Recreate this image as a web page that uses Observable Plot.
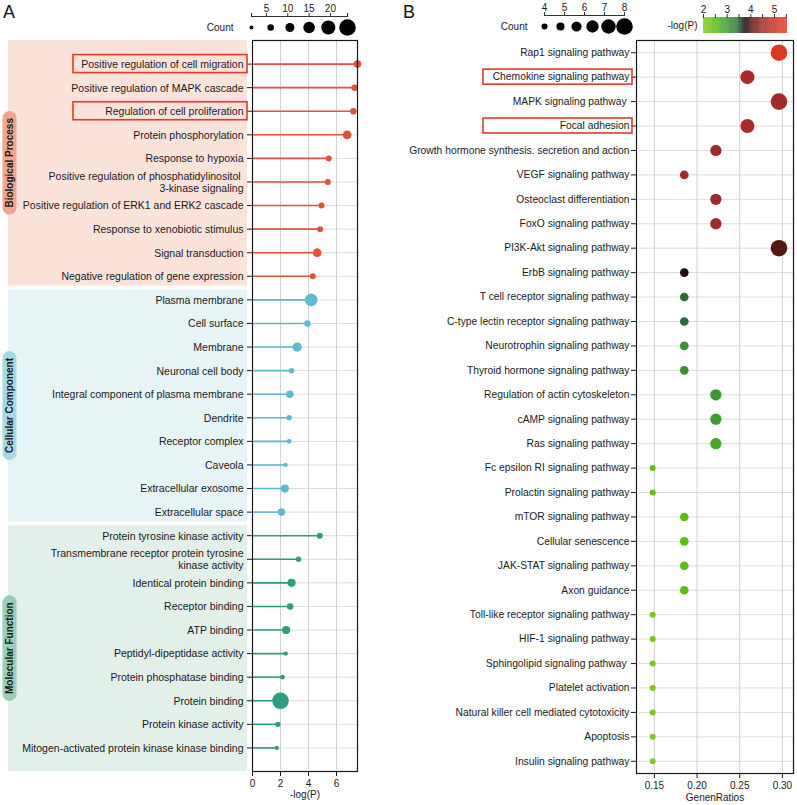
<!DOCTYPE html>
<html><head><meta charset="utf-8">
<script src="https://cdn.jsdelivr.net/npm/d3@7"></script>
<script src="https://cdn.jsdelivr.net/npm/@observablehq/plot@0.6"></script>
<style>
html,body{margin:0;padding:0;background:#fff;}
#root{position:relative;width:797px;height:805px;overflow:hidden;font-family:"Liberation Sans",Arial,Helvetica,sans-serif;}
#root > svg, #root > div{position:absolute;left:0;top:0;}
.panel{font-size:18px;color:#111;line-height:1;}
</style></head><body><div id="root"></div>
<script>
// ---------- Panel A data (GO enrichment) ----------
const goTerms = [
  "Positive regulation of cell migration",
  "Positive regulation of MAPK cascade",
  "Regulation of cell proliferation",
  "Protein phosphorylation",
  "Response to hypoxia",
  "Positive regulation of phosphatidylinositol \n3-kinase signaling",
  "Positive regulation of ERK1 and ERK2 cascade",
  "Response to xenobiotic stimulus",
  "Signal transduction",
  "Negative regulation of gene expression",
  "Plasma membrane",
  "Cell surface",
  "Membrane",
  "Neuronal cell body",
  "Integral component of plasma membrane",
  "Dendrite",
  "Receptor complex",
  "Caveola",
  "Extracellular exosome",
  "Extracellular space",
  "Protein tyrosine kinase activity",
  "Transmembrane receptor protein tyrosine\nkinase activity",
  "Identical protein binding",
  "Receptor binding",
  "ATP binding",
  "Peptidyl-dipeptidase activity",
  "Protein phosphatase binding",
  "Protein binding",
  "Protein kinase activity",
  "Mitogen-activated protein kinase kinase binding"
];
const goGroup = [
  "Biological Process","Biological Process","Biological Process","Biological Process","Biological Process",
  "Biological Process","Biological Process","Biological Process","Biological Process","Biological Process",
  "Cellular Component","Cellular Component","Cellular Component","Cellular Component","Cellular Component",
  "Cellular Component","Cellular Component","Cellular Component","Cellular Component","Cellular Component",
  "Molecular Function","Molecular Function","Molecular Function","Molecular Function","Molecular Function",
  "Molecular Function","Molecular Function","Molecular Function","Molecular Function","Molecular Function"
];
const goLogP = [7.5, 7.3, 7.2, 6.76, 5.45, 5.38, 4.93, 4.83, 4.62, 4.31,
                4.19, 3.93, 3.19, 2.79, 2.67, 2.62, 2.62, 2.36, 2.31, 2.07,
                4.81, 3.29, 2.79, 2.69, 2.40, 2.38, 2.14, 2.00, 1.81, 1.74];
const goCount = [8, 6, 6, 10, 5, 5, 5, 5, 10, 5,
                 17, 6, 11, 4, 8, 4, 3, 2, 9, 8,
                 5, 4, 9, 6, 9, 2, 3, 24, 4, 2];
const groupNames = ["Biological Process","Cellular Component","Molecular Function"];
const goHighlighted = ["Positive regulation of cell migration","Regulation of cell proliferation"];
const goXTicks = [0, 2, 4, 6];
const countLegendA = [1.5, 6, 10.5, 15, 19.5, 24];
const countLegendATicks = [5, 10, 15, 20];

// ---------- Panel B data (KEGG enrichment) ----------
const keggTerms = [
  "Rap1 signaling pathway",
  "Chemokine signaling pathway",
  "MAPK signaling pathway ",
  "Focal adhesion",
  "Growth hormone synthesis. secretion and action",
  "VEGF signaling pathway",
  "Osteoclast differentiation",
  "FoxO signaling pathway",
  "PI3K-Akt signaling pathway",
  "ErbB signaling pathway",
  "T cell receptor signaling pathway",
  "C-type lectin receptor signaling pathway",
  "Neurotrophin signaling pathway",
  "Thyroid hormone signaling pathway",
  "Regulation of actin cytoskeleton",
  "cAMP signaling pathway",
  "Ras signaling pathway",
  "Fc epsilon RI signaling pathway",
  "Prolactin signaling pathway",
  "mTOR signaling pathway",
  "Cellular senescence",
  "JAK-STAT signaling pathway",
  "Axon guidance",
  "Toll-like receptor signaling pathway",
  "HIF-1 signaling pathway",
  "Sphingolipid signaling pathway ",
  "Platelet activation",
  "Natural killer cell mediated cytotoxicity",
  "Apoptosis",
  "Insulin signaling pathway"
];
const keggRatio = [0.296, 0.259, 0.296, 0.259, 0.222, 0.185, 0.222, 0.222, 0.296, 0.185,
                   0.185, 0.185, 0.185, 0.185, 0.222, 0.222, 0.222, 0.148, 0.148, 0.185,
                   0.185, 0.185, 0.185, 0.148, 0.148, 0.148, 0.148, 0.148, 0.148, 0.148];
const keggCount = [8, 7, 8, 7, 6, 5, 6, 6, 8, 5,
                   5, 5, 5, 5, 6, 6, 6, 4, 4, 5,
                   5, 5, 5, 4, 4, 4, 4, 4, 4, 4];
const keggLogP = [5.40, 4.60, 4.55, 4.60, 4.50, 4.55, 4.50, 4.50, 4.05, 3.85,
                  3.45, 3.45, 3.10, 3.10, 3.00, 2.95, 2.80, 2.40, 2.40, 2.50,
                  2.50, 2.50, 2.50, 2.10, 2.10, 2.05, 2.05, 2.05, 2.05, 2.00];
const keggHighlighted = ["Chemokine signaling pathway","Focal adhesion"];
const keggXTicks = [0.15, 0.20, 0.25, 0.30];
const countLegendB = [4, 4.8, 5.6, 6.4, 7.2, 8];
const countLegendBTicks = [4, 5, 6, 7, 8];
const logPLegendTicks = [2, 2.5, 3, 3.5, 4, 4.5, 5, 5.5];

// ---------- styles ----------
const FONT = "'Liberation Sans', Arial, Helvetica, sans-serif";
const groupLine = ["#e0523d", "#5dbad0", "#2f9d80"];
const groupBand = ["#fce3da", "#e6f4f6", "#e3efe9"];
const groupPill = ["#f1a48e", "#a7d8e6", "#99cfb8"];
const pColorDomain = [2, 2.5, 3.0, 3.45, 3.75, 4.0, 4.5, 5.55];
const pColorRange = ["#86c820", "#5cbd12", "#3a9a30", "#2d6b36", "#080808", "#4a1512", "#a0292a", "#ea3a1e"];
const W = 797, H = 805;
const root = document.getElementById("root");

// ================= Panel A =================
const rowsA = goTerms.map((term, i) => ({term, group: goGroup[i], logp: goLogP[i], count: goCount[i]}));
const chartA = Plot.plot({
  width: W, height: H,
  marginLeft: 252, marginRight: W - 357, marginTop: 40, marginBottom: 34,
  style: {fontFamily: FONT, fontSize: "10px", color: "#1a1a1a", background: "transparent", overflow: "visible"},
  x: {domain: [0, 7.5]},
  y: {type: "point", domain: goTerms, padding: 1, round: false},
  r: {type: "linear", domain: [1.5, 24], range: [2, 8.3]},
  color: {domain: groupNames, range: groupLine},
  marks: [
    Plot.gridY({stroke: "#dcdcdc", strokeOpacity: 1}),
    Plot.gridX(goXTicks.slice(1), {stroke: "#d2d2d2", strokeOpacity: 1}),
    Plot.ruleY(rowsA, {y: "term", x1: 0, x2: "logp", stroke: "group", strokeWidth: 1.6}),
    Plot.dot(rowsA, {y: "term", x: "logp", r: "count", fill: "group"}),
    Plot.frame({stroke: "#1a1a1a", strokeWidth: 1.2}),
    Plot.axisY({tickSize: 5, tickPadding: 4, label: null, lineHeight: 1.15, fontSize: 10.5}),
    Plot.axisX({ticks: goXTicks, tickSize: 5, tickPadding: 3, label: "-log(P)", labelAnchor: "center", labelArrow: "none", labelOffset: 26, fontSize: 10})
  ]
});
root.appendChild(chartA);

// group bands, pills and highlight boxes positioned by the y scale
{
  const yA = chartA.scale("y");
  const pos = goTerms.map(t => yA.apply(t));
  const svg = d3.select(chartA);
  const g = svg.insert("g", "g");
  const top = 40, bottom = H - 34;
  groupNames.forEach((name, gi) => {
    const idx = goGroup.map((d, i) => d === name ? i : -1).filter(i => i >= 0);
    const first = idx[0], last = idx[idx.length - 1];
    const y0 = first === 0 ? top : (pos[first - 1] + pos[first]) / 2 + 2;
    const y1 = last === goTerms.length - 1 ? bottom : (pos[last] + pos[last + 1]) / 2 - 2;
    g.append("rect").attr("x", 8).attr("width", 239).attr("y", y0).attr("height", y1 - y0).attr("fill", groupBand[gi]);
    const cy = (y0 + y1) / 2;
    const pill = g.append("rect").attr("fill", groupPill[gi]);
    const t = g.append("text").text(name)
      .attr("transform", `translate(9.5,${cy}) rotate(-90)`)
      .attr("text-anchor", "middle").attr("dy", "0.35em")
      .attr("font-size", 10).attr("font-weight", "bold").attr("fill", "#1a1a1a")
      .attr("font-family", FONT);
    const len = t.node().getComputedTextLength();
    const ph = len + 14;
    pill.attr("x", 2.5).attr("width", 14).attr("y", cy - ph / 2).attr("height", ph).attr("rx", 7);
  });
  const hb = svg.append("g");
  goHighlighted.forEach(term => {
    const y = yA.apply(term);
    hb.append("rect").attr("x", 73).attr("width", 174).attr("y", y - 9).attr("height", 18)
      .attr("fill", "none").attr("stroke", "#e23b2a").attr("stroke-width", 1.6);
  });
}

// Count legend A
const legA = Plot.plot({
  width: W, height: 40,
  marginLeft: 251, marginRight: W - 347, marginTop: 16, marginBottom: 2,
  style: {fontFamily: FONT, fontSize: "10px", color: "#1a1a1a", background: "transparent", overflow: "visible"},
  x: {domain: [1.5, 24]},
  y: {domain: [0, 1], axis: null},
  r: {type: "linear", domain: [1.5, 24], range: [2, 8.3]},
  marks: [
    Plot.ruleY([1], {x1: 1.5, x2: 24, stroke: "#333"}),
    Plot.axisX({anchor: "top", ticks: [1.5, ...countLegendATicks, 24], tickFormat: d => countLegendATicks.includes(d) ? String(d) : "", tickSize: 4, tickPadding: 1, label: null, stroke: "#333"}),
    Plot.dot(countLegendA, {x: d => d, y: 0.5, r: d => d, fill: "#000"}),
    Plot.text(["Count"], {x: 1.5, y: 0.5, dx: -18, textAnchor: "end", fontSize: 10})
  ]
});
root.appendChild(legA);

// ================= Panel B =================
const rowsB = keggTerms.map((term, i) => ({term, ratio: keggRatio[i], count: keggCount[i], logp: keggLogP[i]}));
const chartB = Plot.plot({
  width: W, height: H,
  marginLeft: 636, marginRight: W - 793, marginTop: 40, marginBottom: H - 773,
  style: {fontFamily: FONT, fontSize: "10px", color: "#1a1a1a", background: "transparent", overflow: "visible"},
  x: {domain: [0.129, 0.313]},
  y: {type: "point", domain: keggTerms, padding: 0.5, round: false},
  r: {type: "linear", domain: [4, 8], range: [3, 8.3]},
  color: {type: "linear", domain: pColorDomain, range: pColorRange, interpolate: "rgb"},
  marks: [
    Plot.gridY({stroke: "#dcdcdc", strokeOpacity: 1}),
    Plot.gridX(keggXTicks, {stroke: "#d2d2d2", strokeOpacity: 1}),
    Plot.dot(rowsB, {x: "ratio", y: "term", r: "count", fill: "logp"}),
    Plot.frame({stroke: "#1a1a1a", strokeWidth: 1.2}),
    Plot.axisY({tickSize: 5, tickPadding: 2, label: null, fontSize: 10.3}),
    Plot.axisX({ticks: keggXTicks, tickFormat: d3.format(".2f"), tickSize: 5, tickPadding: 3, label: "GenenRatios", labelAnchor: "center", labelArrow: "none", labelOffset: 27, fontSize: 10})
  ]
});
root.appendChild(chartB);
{
  const yB = chartB.scale("y");
  const svg = d3.select(chartB);
  const hb = svg.append("g");
  keggHighlighted.forEach(term => {
    const y = yB.apply(term);
    hb.append("rect").attr("x", 483).attr("width", 149).attr("y", y - 7.5).attr("height", 15)
      .attr("fill", "none").attr("stroke", "#e23b2a").attr("stroke-width", 1.6);
  });
}

// Count legend B
const legB = Plot.plot({
  width: W, height: 40,
  marginLeft: 544, marginRight: W - 624, marginTop: 15, marginBottom: 3,
  style: {fontFamily: FONT, fontSize: "10px", color: "#1a1a1a", background: "transparent", overflow: "visible"},
  x: {domain: [4, 8]},
  y: {domain: [0, 1], axis: null},
  r: {type: "linear", domain: [4, 8], range: [3, 8.3]},
  marks: [
    Plot.ruleY([1], {x1: 4, x2: 8, stroke: "#333"}),
    Plot.axisX({anchor: "top", ticks: countLegendBTicks, tickFormat: d => String(d), tickSize: 4, tickPadding: 1, label: null, stroke: "#333"}),
    Plot.dot(countLegendB, {x: d => d, y: 0.5, r: d => d, fill: "#000"}),
    Plot.text(["Count"], {x: 4, y: 0.5, dx: -17, textAnchor: "end", fontSize: 10})
  ]
});
root.appendChild(legB);

// Colour legend B (-log(P))
const ramp = d3.range(2, 5.55, 0.02);
const legC = Plot.plot({
  width: W, height: 40,
  marginLeft: 703, marginRight: W - 787, marginTop: 17, marginBottom: 7,
  style: {fontFamily: FONT, fontSize: "10px", color: "#1a1a1a", background: "transparent", overflow: "visible"},
  x: {domain: [2, 5.55]},
  color: {type: "linear", domain: pColorDomain, range: pColorRange, interpolate: "rgb"},
  marks: [
    Plot.rect(ramp, {x1: d => d, x2: d => Math.min(d + 0.025, 5.55), fill: d => d}),
    Plot.axisX({anchor: "top", ticks: logPLegendTicks, tickFormat: d => Number.isInteger(d) ? String(d) : "", tickSize: 4, tickPadding: 1, label: null, stroke: "#333"}),
    Plot.text(["-log(P)"], {x: 2, frameAnchor: "middle", dx: -6, textAnchor: "end", fontSize: 10})
  ]
});
root.appendChild(legC);

// panel letters
for (const [letter, x] of [["A", 3], ["B", 403]]) {
  const d = document.createElement("div");
  d.className = "panel";
  d.textContent = letter;
  d.style.left = x + "px";
  d.style.top = "3px";
  root.appendChild(d);
}
</script></body></html>
